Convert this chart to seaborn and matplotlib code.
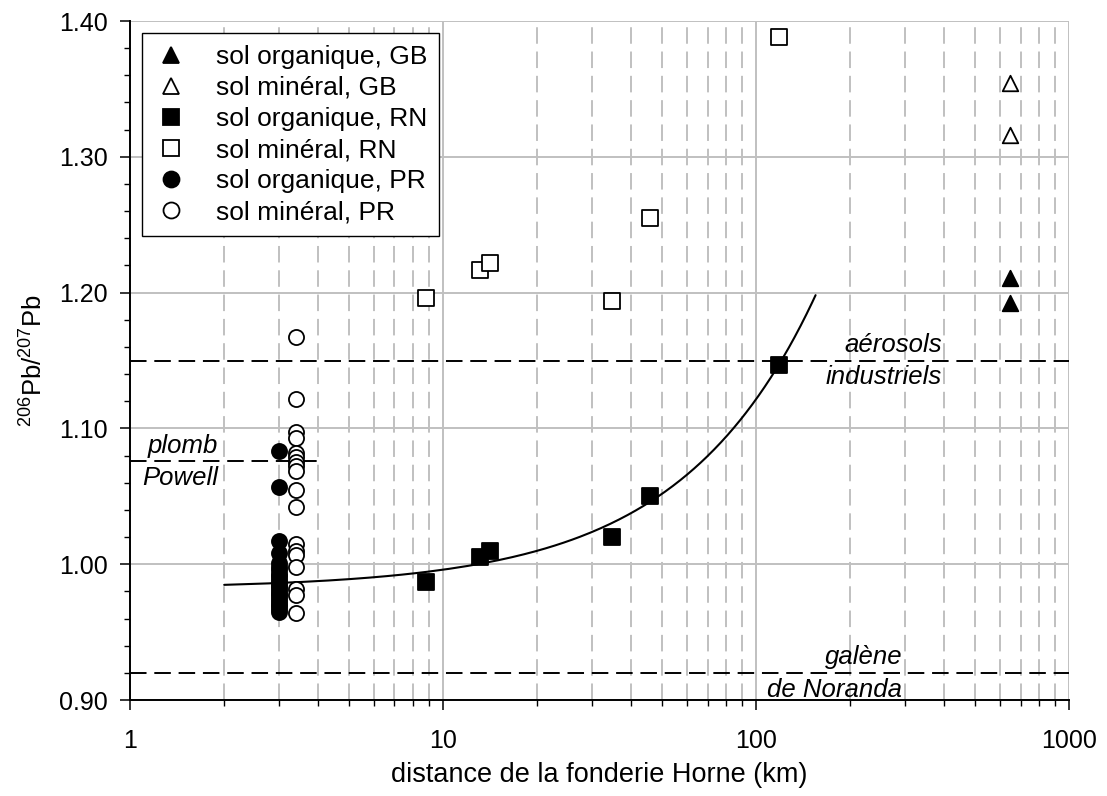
import matplotlib
matplotlib.use("Agg")
import numpy as np
import pandas as pd
import seaborn as sns
import matplotlib.pyplot as plt
from matplotlib.lines import Line2D
from matplotlib.ticker import FixedLocator, FuncFormatter, MultipleLocator, LogLocator, NullFormatter

# ---------------- data ----------------
gb_org_x = [650, 650]
gb_org_y = [1.211, 1.192]
gb_min_x = [650, 650]
gb_min_y = [1.354, 1.316]

rn_x = [8.8, 13.1, 14.1, 34.7, 45.8, 118]
rn_org_y = [0.987, 1.005, 1.010, 1.020, 1.050, 1.147]
rn_min_y = [1.196, 1.217, 1.222, 1.194, 1.255, 1.388]

pr_org_y = [1.083, 1.057, 1.017, 1.008, 1.001, 0.998, 0.996, 0.993, 0.991,
            0.989, 0.987, 0.985, 0.983, 0.981, 0.979, 0.977, 0.975, 0.973,
            0.971, 0.969, 0.967, 0.965]
pr_org_x = [3.0] * len(pr_org_y)
pr_min_y = [1.167, 1.122, 1.097, 1.093, 1.082, 1.079, 1.075, 1.072, 1.069,
            1.055, 1.042, 1.015, 1.010, 1.007, 0.998, 0.982, 0.977, 0.964]
pr_min_x = [3.4] * len(pr_min_y)

labels = ["sol organique, GB", "sol minéral, GB", "sol organique, RN",
          "sol minéral, RN", "sol organique, PR", "sol minéral, PR"]

aerosol_ratio = 1.150
powell_ratio = 1.076
powell_xmax = 4.1
noranda_ratio = 0.920
fit_xmin, fit_xmax = 2, 155

x_ticks = [1, 10, 100, 1000]
y_ticks = [0.90, 1.00, 1.10, 1.20, 1.30, 1.40]

# ---------------- style ----------------
sns.set_theme(style="white")
plt.rcParams["font.family"] = ["Liberation Sans", "DejaVu Sans"]
plt.rcParams["mathtext.fontset"] = "custom"
plt.rcParams["mathtext.rm"] = "Liberation Sans"
plt.rcParams["mathtext.it"] = "Liberation Sans:italic"
for k in ["text.color", "axes.labelcolor", "xtick.color", "ytick.color",
          "xtick.labelcolor", "ytick.labelcolor"]:
    plt.rcParams[k] = "black"

FS = 18
fig = plt.figure(figsize=(11.07, 7.96), dpi=100)
ax = fig.add_axes([0.1174, 0.1206, 0.9657 - 0.1174, 0.9736 - 0.1206])
ax.set_xscale("log")
ax.set_xlim(1, 1000)
ax.set_ylim(0.90, 1.40)

grid_c = "#c0c0c0"
ax.set_axisbelow(True)
ax.grid(which="major", axis="both", color=grid_c, lw=1.4, ls="-")
ax.xaxis.set_minor_locator(LogLocator(base=10, subs=np.arange(2, 10)))
ax.grid(which="minor", axis="x", color=grid_c, lw=1.4, ls=(0, (8.5, 4)))

# reference lines
dash = (0, (8.5, 4))
ax.axhline(aerosol_ratio, color="black", lw=1.4, ls=dash, zorder=2)
ax.axhline(noranda_ratio, color="black", lw=1.4, ls=dash, zorder=2)
ax.hlines(powell_ratio, 1, powell_xmax, color="black", lw=1.4, ls=dash, zorder=2)

# fit through RN organic
coef = np.polyfit(rn_x, rn_org_y, 1)
fx = np.linspace(fit_xmin, fit_xmax, 200)
sns.lineplot(x=fx, y=np.polyval(coef, fx), color="black", lw=1.5, ax=ax, zorder=2)

ew = 1.3
def pts(x, y, marker, filled, s):
    sns.scatterplot(x=x, y=y, marker=marker, s=s,
                    facecolor="black" if filled else "white",
                    edgecolor="black", linewidth=ew, ax=ax, zorder=3)

pts(pr_org_x, pr_org_y, "o", True, 118)
pts(pr_min_x, pr_min_y, "o", False, 118)
pts(rn_x, rn_org_y, "s", True, 130)
pts(rn_x, rn_min_y, "s", False, 130)
pts(gb_org_x, gb_org_y, "^", True, 125)
pts(gb_min_x, gb_min_y, "^", False, 125)

# annotations
tk = dict(fontsize=18.5, style="italic", ha="right", color="black")
ax.text(393, aerosol_ratio + 0.0025, "aérosols", va="bottom", **tk)
ax.text(393, aerosol_ratio - 0.0035, "industriels", va="top", **tk)
ax.text(293, noranda_ratio + 0.0025, "galène", va="bottom", **tk)
ax.text(293, noranda_ratio - 0.0035, "de Noranda", va="top", **tk)
ax.text(1.91, powell_ratio + 0.0025, "plomb", va="bottom", **tk)
ax.text(1.91, powell_ratio - 0.0035, "Powell", va="top", **tk)

# axes
for s in ["top", "right"]:
    ax.spines[s].set_visible(False)
for s in ["left", "bottom"]:
    ax.spines[s].set_color("black")
    ax.spines[s].set_linewidth(1.4)

ax.xaxis.set_major_locator(FixedLocator(x_ticks))
ax.xaxis.set_major_formatter(FuncFormatter(lambda v, p: f"{v:g}"))
ax.xaxis.set_minor_formatter(NullFormatter())
ax.yaxis.set_major_locator(FixedLocator(y_ticks))
ax.yaxis.set_major_formatter(FuncFormatter(lambda v, p: f"{v:.2f}"))
ax.yaxis.set_minor_locator(MultipleLocator(0.02))

ax.tick_params(which="major", direction="out", length=7, width=1.1,
               color="black", labelcolor="black", labelsize=FS, pad=9,
               bottom=True, left=True)
ax.tick_params(axis="x", which="major", pad=14)
ax.tick_params(which="minor", direction="out", length=4, width=1.0,
               color="black", bottom=True, left=True)

ax.set_xlabel("distance de la fonderie Horne (km)", fontsize=19.5, labelpad=6,
              color="black")
ax.set_ylabel(r"$\mathregular{^{206}Pb/^{207}Pb}$", fontsize=18.5, labelpad=8,
              color="black")

# legend
handles = [
    Line2D([], [], ls="none", marker="^", ms=12, mfc="black", mec="black", mew=ew),
    Line2D([], [], ls="none", marker="^", ms=12, mfc="white", mec="black", mew=ew),
    Line2D([], [], ls="none", marker="s", ms=11, mfc="black", mec="black", mew=ew),
    Line2D([], [], ls="none", marker="s", ms=11, mfc="white", mec="black", mew=ew),
    Line2D([], [], ls="none", marker="o", ms=11.5, mfc="black", mec="black", mew=ew),
    Line2D([], [], ls="none", marker="o", ms=11.5, mfc="white", mec="black", mew=ew),
]
leg = ax.legend(handles, labels, loc="upper left", fontsize=19, frameon=True,
                fancybox=False, framealpha=1, edgecolor="black",
                borderaxespad=0.45, labelspacing=0.27, handletextpad=1.05,
                borderpad=0.45, handlelength=1.3, labelcolor="black")
leg.get_frame().set_linewidth(1.0)

fig.savefig("out.png", dpi=100)
